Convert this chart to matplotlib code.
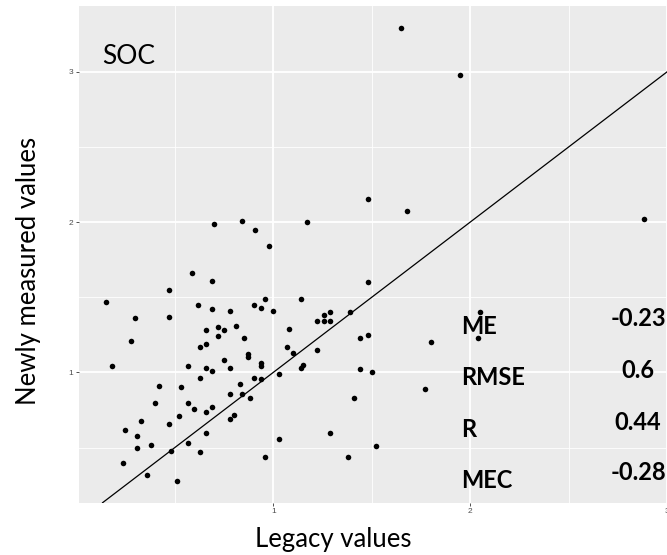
import matplotlib
matplotlib.use("Agg")
import matplotlib.pyplot as plt
from matplotlib.ticker import FixedLocator

# Legacy (x) vs newly measured (y) SOC values
legacy = [0.70, 0.84, 0.91, 0.98, 1.17, 1.65, 1.95, 1.48, 1.68, 2.88,
          0.59, 0.69, 0.47, 0.15, 0.62, 0.69, 0.30, 0.47, 0.66, 0.72,
          0.72, 0.28, 0.66, 0.63, 0.18, 0.57, 0.66, 0.69, 0.63, 0.42,
          0.53, 0.40, 0.57, 0.60, 0.66, 0.69, 0.33, 0.47, 0.52, 0.25,
          0.31, 0.66, 0.31, 0.38, 0.48, 0.57, 0.63, 0.24, 0.36, 0.51,
          0.96, 1.14, 0.90, 0.94, 1.00, 0.78, 0.75, 0.81, 0.85, 1.08,
          1.22, 1.26, 1.29, 1.26, 1.29, 1.39, 0.87, 0.87, 1.07, 1.10,
          1.22, 0.75, 0.78, 0.94, 0.94, 1.14, 1.15, 0.90, 0.94, 1.03,
          0.78, 0.83, 0.84, 0.88, 0.78, 0.80, 1.03, 0.96, 1.29, 1.38,
          1.48, 1.44, 1.48, 1.80, 1.44, 1.50, 2.05, 2.04, 1.41, 1.77,
          1.52]
measured = [1.99, 2.01, 1.95, 1.84, 2.00, 3.29, 2.98, 2.15, 2.07, 2.02,
            1.66, 1.61, 1.55, 1.47, 1.45, 1.42, 1.36, 1.37, 1.28, 1.30,
            1.24, 1.21, 1.19, 1.17, 1.04, 1.04, 1.03, 1.01, 0.96, 0.91,
            0.90, 0.80, 0.80, 0.76, 0.74, 0.77, 0.68, 0.66, 0.71, 0.62,
            0.58, 0.60, 0.50, 0.52, 0.48, 0.53, 0.47, 0.40, 0.32, 0.28,
            1.49, 1.49, 1.45, 1.43, 1.41, 1.41, 1.28, 1.31, 1.23, 1.29,
            1.34, 1.38, 1.40, 1.34, 1.34, 1.40, 1.12, 1.10, 1.17, 1.13,
            1.15, 1.08, 1.03, 1.06, 1.04, 1.03, 1.05, 0.96, 0.955, 0.99,
            0.86, 0.92, 0.86, 0.83, 0.69, 0.72, 0.56, 0.44, 0.60, 0.44,
            1.60, 1.23, 1.25, 1.20, 1.02, 1.00, 1.40, 1.23, 0.83, 0.89,
            0.51]

# Validation statistics
metric_names = ["ME", "RMSE", "R", "MEC"]
metric_values = ["-0.23", "0.6", "0.44", "-0.28"]
name_y = [1.254, 0.916, 0.572, 0.231]
value_y = [1.308, 0.962, 0.617, 0.285]

plt.rcParams["font.family"] = ["Lato", "DejaVu Sans"]

fig = plt.figure(figsize=(6.67, 5.55), dpi=100)
ax = fig.add_axes([0.118, 0.0942, 0.8876, 0.8955])
ax.set_facecolor("#EBEBEB")

ax.set_xlim(0.013, 3.017)
ax.set_ylim(0.134, 3.438)

ax.xaxis.set_major_locator(FixedLocator([1, 2, 3]))
ax.yaxis.set_major_locator(FixedLocator([1, 2, 3]))
ax.xaxis.set_minor_locator(FixedLocator([0.5, 1.5, 2.5]))
ax.yaxis.set_minor_locator(FixedLocator([0.5, 1.5, 2.5]))
ax.grid(which="major", color="white", linewidth=1.3)
ax.grid(which="minor", color="white", linewidth=0.6)
ax.set_axisbelow(True)
for s in ax.spines.values():
    s.set_visible(False)

ax.tick_params(which="major", length=2.4, width=0.6, color="#333333",
               labelsize=6, labelcolor="#4D4D4D", pad=1.5)
ax.tick_params(which="minor", length=0)
for lab in ax.get_xticklabels() + ax.get_yticklabels():
    lab.set_fontfamily("Liberation Sans")

# 1:1 line
ax.axline((0, 0), slope=1, color="black", linewidth=0.9)

ax.scatter(legacy, measured, s=16, color="black", linewidths=0, zorder=3)

ax.text(0.131, 3.049, "SOC", fontsize=19, ha="left", va="baseline")

for name, ny, val, vy in zip(metric_names, name_y, metric_values, value_y):
    ax.text(1.953, ny, name, fontsize=17, fontweight="bold",
            ha="left", va="baseline", zorder=4)
    ax.text(2.851, vy, val, fontsize=17, fontweight="bold",
            ha="center", va="baseline", zorder=4)

fig.text(0.499, 0.0144, "Legacy values", fontsize=18.5,
         ha="center", va="baseline")
fig.text(0.0427, 0.5126, "Newly measured values", fontsize=18.5,
         rotation=90, ha="center", va="center")

fig.savefig("out.png", dpi=100)
